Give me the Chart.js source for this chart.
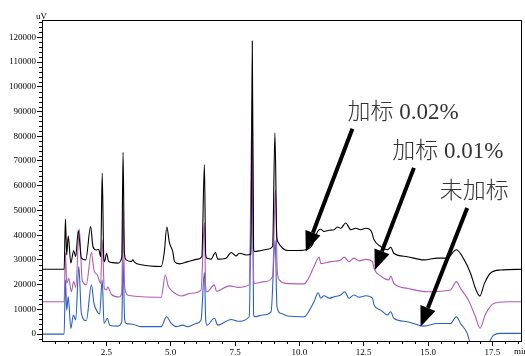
<!DOCTYPE html>
<html>
<head>
<meta charset="utf-8">
<script src="https://cdn.jsdelivr.net/npm/chart.js"></script>
<style>
  body { margin: 0; background: #fff; }
  canvas { display: block; }
</style>
</head>
<body>
<canvas id="chromChart" width="525" height="356"></canvas>
<script>
// retention time (min) and signal (uV)
const blackTime = [0, 0.86, 0.91, 0.96, 1.02, 1.12, 1.23, 1.31, 1.41, 1.53, 1.70, 1.89, 1.98, 2.11, 2.20, 2.28, 2.34, 2.40, 2.43, 2.51, 2.59, 2.95, 3.10, 3.15, 3.20, 3.27, 3.47, 3.53, 3.60, 3.86, 4.63, 4.75, 4.85, 4.95, 5.08, 5.15, 5.34, 5.67, 6.05, 6.21, 6.31, 6.36, 6.41, 6.57, 6.74, 6.83, 7.15, 7.35, 7.54, 7.67, 7.93, 8.12, 8.17, 8.22, 8.25, 8.51, 8.77, 8.96, 9.05, 9.12, 9.16, 9.35, 9.54, 9.93, 10.32, 10.51, 10.71, 10.83, 10.96, 11.16, 11.35, 11.48, 11.61, 11.80, 12.00, 12.19, 12.38, 12.58, 12.80, 12.90, 13.16, 13.42, 13.55, 13.67, 14.19, 14.84, 15.36, 15.74, 16.10, 16.39, 16.65, 16.84, 17.01, 17.19, 17.42, 17.81, 18.70];
const blackSignal = [26200, 26200, 46500, 32000, 39700, 28700, 33800, 31300, 41900, 30700, 30000, 43500, 35400, 34000, 34300, 31300, 65100, 30500, 29300, 32700, 29300, 28700, 31000, 73500, 33000, 30000, 29300, 30000, 29000, 28000, 27300, 33000, 43300, 37000, 33400, 29300, 28400, 29300, 30300, 31300, 68500, 32000, 30700, 30300, 33000, 30300, 30700, 33000, 31600, 32700, 32000, 32400, 118500, 35000, 33400, 33800, 34300, 35400, 81400, 40000, 37400, 34700, 33800, 33800, 34300, 36100, 41500, 42400, 41500, 42000, 42200, 43300, 42800, 44900, 42200, 42800, 42200, 42800, 41500, 38100, 35400, 34100, 35100, 32700, 31300, 30000, 30700, 30700, 34100, 30300, 24600, 18500, 15400, 20500, 24600, 25900, 26200];

const magentaTime = [0, 0.86, 0.91, 0.96, 1.04, 1.14, 1.23, 1.31, 1.45, 1.56, 1.72, 1.92, 2.02, 2.15, 2.28, 2.34, 2.42, 2.50, 2.55, 2.70, 3.00, 3.10, 3.15, 3.21, 3.35, 3.86, 4.63, 4.79, 4.90, 5.02, 5.21, 5.41, 5.79, 6.18, 6.31, 6.36, 6.41, 6.70, 6.78, 7.28, 7.60, 8.05, 8.17, 8.22, 8.25, 8.64, 8.96, 9.07, 9.14, 9.22, 9.48, 10.19, 10.32, 10.57, 10.77, 10.83, 11.22, 11.61, 11.74, 11.93, 12.12, 12.32, 12.58, 12.84, 12.90, 13.16, 13.48, 13.55, 13.67, 14.19, 14.97, 15.87, 16.10, 16.26, 16.58, 16.84, 17.02, 17.23, 17.55, 18.07, 18.70];
const magentaSignal = [13100, 13100, 33000, 20500, 22600, 17100, 21200, 18900, 42500, 21900, 19900, 33000, 25900, 23900, 20500, 38000, 18500, 17800, 19000, 16000, 15000, 17000, 50000, 19000, 15700, 15100, 14900, 23900, 19500, 17800, 16200, 15400, 16500, 17800, 45000, 19000, 17100, 19900, 17300, 19500, 18900, 19900, 95000, 22000, 20500, 21200, 23200, 58400, 26000, 21900, 20500, 20300, 21900, 27300, 31100, 28500, 29300, 30000, 31100, 29300, 30700, 29600, 30200, 29300, 26600, 23500, 21900, 23500, 20500, 18500, 17100, 17800, 21200, 18500, 13500, 7000, 2400, 8000, 12400, 13100, 13100];

const blueTime = [0, 0.86, 0.91, 0.96, 1.02, 1.12, 1.22, 1.31, 1.43, 1.53, 1.72, 1.92, 2.02, 2.15, 2.24, 2.34, 2.41, 2.54, 2.63, 2.95, 3.10, 3.15, 3.21, 3.27, 3.53, 3.86, 4.63, 4.84, 5.02, 5.21, 5.47, 5.67, 5.99, 6.18, 6.31, 6.36, 6.41, 6.70, 6.83, 7.35, 7.60, 8.05, 8.17, 8.22, 8.25, 8.57, 8.90, 9.06, 9.13, 9.28, 9.54, 10.19, 10.32, 10.57, 10.73, 10.83, 10.96, 11.16, 11.35, 11.61, 11.76, 11.93, 12.12, 12.32, 12.58, 12.84, 12.90, 13.16, 13.42, 13.55, 13.67, 14.19, 14.84, 15.36, 15.87, 16.10, 16.26, 16.52, 16.71, 17.02, 17.25, 17.39, 17.55, 17.81, 18.70];
const blueSignal = [0, 0, 21900, 9700, 15100, 2300, 7700, 5700, 27300, 8400, 5400, 19900, 12400, 9000, 8100, 21900, 4300, 6400, 3600, 3200, 5000, 30000, 6000, 4300, 4000, 3000, 3000, 7000, 4300, 3000, 3600, 3000, 4300, 5700, 25000, 6000, 3600, 6400, 3600, 5900, 5200, 7000, 75000, 8500, 7000, 7700, 9000, 38000, 11000, 8400, 7300, 7000, 8400, 13100, 16700, 14500, 15500, 14500, 15100, 15800, 17100, 14500, 15800, 14900, 15500, 14500, 11800, 9700, 7700, 9000, 6400, 5000, 3200, 4300, 4300, 7000, 4300, 300, -6500, -12000, -7000, -3100, -400, 300, 300];

// axis tick labels
const yTickValues = [0, 10000, 20000, 30000, 40000, 50000, 60000, 70000, 80000, 90000, 100000, 110000, 120000];
const xTickValues = [2.5, 5.0, 7.5, 10.0, 12.5, 15.0, 17.5];

// annotation text and arrows, positions in (min, uV)
const noteLabels = ['加标 0.02%', '加标 0.01%', '未加标'];
const noteTextAt = [[11.87, 89500], [13.61, 73500], [15.45, 57300]];
const arrowTail = [[12.06, 83000], [14.45, 67200], [16.52, 51000]];
const arrowTip = [[10.25, 33400], [12.93, 25900], [14.71, 3000]];

const toPoints = (xs, ys) => xs.map((x, i) => ({ x: x, y: ys[i] }));

const serif = "'Liberation Serif', 'Times New Roman', serif";

// box, minor ticks, axis captions and the arrows
const decorPlugin = {
    id: 'decor',
    afterDraw(chart) {
        const ctx = chart.ctx;
        const a = chart.chartArea;
        const xs = chart.scales.x;
        const ys = chart.scales.y;
        ctx.save();
        ctx.strokeStyle = '#000';
        ctx.lineWidth = 1;
        ctx.strokeRect(Math.round(a.left) + 0.5, Math.round(a.top) + 0.5,
                       Math.round(a.right - a.left) - 1, Math.round(a.bottom - a.top));

        // minor ticks
        ctx.beginPath();
        for (let v = -2000; v <= 126000; v += 2000) {
            if (v % 10000 === 0) continue;
            const py = Math.round(ys.getPixelForValue(v)) + 0.5;
            ctx.moveTo(a.left - 3, py);
            ctx.lineTo(a.left, py);
        }
        for (let k = 1; k <= 37; k++) {
            if (k % 5 === 0) continue;
            const px = Math.round(xs.getPixelForValue(k * 0.5)) + 0.5;
            ctx.moveTo(px, a.bottom);
            ctx.lineTo(px, a.bottom + 3);
        }
        ctx.stroke();

        ctx.fillStyle = '#000';
        ctx.font = '9px ' + serif;
        ctx.textBaseline = 'alphabetic';
        ctx.textAlign = 'left';
        ctx.fillText('uV', 36, 19);
        ctx.textBaseline = 'middle';
        ctx.fillText('min', 514, 351.5);

        // arrows
        ctx.fillStyle = '#000';
        ctx.strokeStyle = '#000';
        for (let i = 0; i < arrowTail.length; i++) {
            const tx = xs.getPixelForValue(arrowTail[i][0]);
            const ty = ys.getPixelForValue(arrowTail[i][1]);
            const hx = xs.getPixelForValue(arrowTip[i][0]);
            const hy = ys.getPixelForValue(arrowTip[i][1]);
            const ang = Math.atan2(hy - ty, hx - tx);
            const headLen = 20, headHalf = 8;
            const bx = hx - headLen * Math.cos(ang);
            const by = hy - headLen * Math.sin(ang);
            ctx.lineWidth = 4;
            ctx.beginPath();
            ctx.moveTo(tx, ty);
            ctx.lineTo(bx, by);
            ctx.stroke();
            ctx.beginPath();
            ctx.moveTo(hx, hy);
            ctx.lineTo(bx + headHalf * Math.sin(ang), by - headHalf * Math.cos(ang));
            ctx.lineTo(bx - headHalf * Math.sin(ang), by + headHalf * Math.cos(ang));
            ctx.closePath();
            ctx.fill();
        }

        ctx.fillStyle = '#333';
        ctx.font = "300 23px 'Liberation Serif', 'Noto Sans CJK SC', serif";
        ctx.textAlign = 'left';
        ctx.textBaseline = 'middle';
        noteLabels.forEach((t, i) => {
            ctx.fillText(t, xs.getPixelForValue(noteTextAt[i][0]), ys.getPixelForValue(noteTextAt[i][1]));
        });
        ctx.restore();
    }
};

const ctx = document.getElementById('chromChart').getContext('2d');

const chromChart = new Chart(ctx, {
    type: 'line',
    data: {
        datasets: [
            { label: '加标 0.02%', data: toPoints(blackTime, blackSignal), borderColor: '#000000' },
            { label: '加标 0.01%', data: toPoints(magentaTime, magentaSignal), borderColor: '#b05cb4' },
            { label: '未加标', data: toPoints(blueTime, blueSignal), borderColor: '#2b5fc0' }
        ]
    },
    options: {
        responsive: false,
        devicePixelRatio: 1,
        animation: false,
        layout: { padding: { top: 20, right: 3, left: 0, bottom: 0 } },
        elements: {
            point: { radius: 0 },
            line: { borderWidth: 1.1, cubicInterpolationMode: 'monotone', fill: false }
        },
        plugins: {
            legend: { display: false },
            tooltip: { enabled: false }
        },
        scales: {
            x: {
                type: 'linear',
                min: 0,
                max: 18.65,
                afterFit: s => { s.height = 15; },
                afterBuildTicks: s => { s.ticks = xTickValues.map(v => ({ value: v })); },
                border: { display: false },
                grid: { display: true, drawOnChartArea: false, tickLength: 5, color: '#000' },
                ticks: {
                    padding: 1,
                    maxRotation: 0,
                    color: '#000',
                    font: { family: serif, size: 9 },
                    callback: v => Number(v).toFixed(1)
                }
            },
            y: {
                min: -2800,
                max: 127000,
                afterFit: s => { s.width = 42; },
                afterBuildTicks: s => { s.ticks = yTickValues.map(v => ({ value: v })); },
                border: { display: false },
                grid: { display: true, drawOnChartArea: false, tickLength: 5, color: '#000' },
                ticks: {
                    padding: 1,
                    color: '#000',
                    font: { family: serif, size: 9 },
                    callback: v => String(v)
                }
            }
        }
    },
    plugins: [decorPlugin]
});
</script>
</body>
</html>
